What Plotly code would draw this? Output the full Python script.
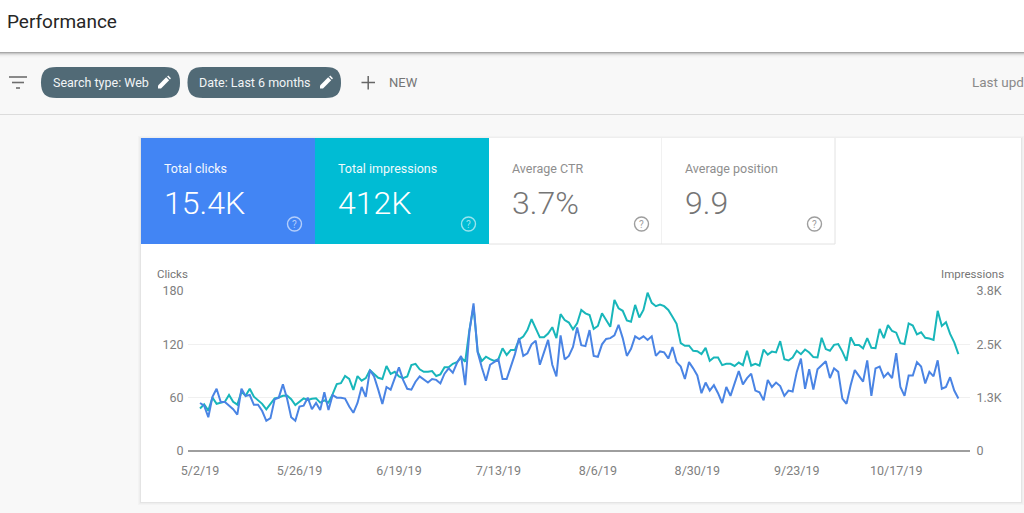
import pandas as pd
import plotly.graph_objects as go

# values
clicks = [54, 51, 38, 61, 70, 55, 55, 51, 47, 41, 70, 62, 63, 52, 52, 45, 34, 37, 58, 60,
          75, 59, 38, 34, 50, 51, 60, 47, 54, 46, 66, 46, 63, 60, 60, 59, 50, 43, 54, 72,
          61, 91, 84, 69, 53, 72, 69, 82, 94, 80, 70, 69, 78, 84, 80, 77, 81, 80, 76, 87,
          93, 88, 99, 107, 74, 134, 166, 111, 94, 79, 97, 100, 103, 81, 81, 95, 109, 127, 107, 110,
          120, 124, 97, 111, 125, 97, 84, 130, 103, 107, 117, 139, 119, 118, 136, 107, 106, 120, 126, 127,
          130, 142, 127, 107, 115, 129, 126, 129, 125, 129, 107, 112, 111, 104, 117, 100, 95, 81, 100, 93,
          85, 65, 77, 68, 74, 65, 54, 72, 62, 76, 90, 75, 82, 87, 68, 66, 57, 80, 72, 77,
          73, 62, 68, 67, 89, 104, 70, 92, 69, 92, 97, 101, 82, 93, 89, 59, 53, 74, 91, 84,
          78, 102, 62, 93, 95, 83, 88, 82, 110, 72, 62, 85, 85, 100, 95, 76, 89, 84, 102, 70,
          72, 83, 68, 59]

impressions = [1010, 1110, 960, 1270, 1120, 1150, 1170, 1330, 1170, 1100,
               1410, 1310, 1480, 1290, 1200, 1120, 990, 1120, 1250, 1270,
               1310, 1320, 1230, 1090, 1160, 1250, 1210, 1240, 1250, 1150,
               1200, 1150, 1350, 1590, 1610, 1780, 1710, 1450, 1780, 1670,
               1730, 1920, 1830, 1740, 1710, 2020, 1830, 1880, 1770, 1730,
               1770, 2040, 2070, 1940, 1880, 1880, 1900, 1780, 1820, 1990,
               1990, 2070, 2110, 2220, 2120, 2870, 3430, 2360, 2140, 2240,
               2180, 2140, 2180, 2440, 2280, 2400, 2400, 2650, 2720, 2870,
               3130, 2910, 2700, 2700, 2790, 2940, 2680, 3250, 3110, 3050,
               2890, 3030, 3350, 3270, 3230, 2900, 2970, 3270, 3100, 2950,
               3590, 3390, 3330, 3100, 3070, 3470, 3170, 3350, 3760, 3520,
               3440, 3480, 3440, 3350, 3190, 3020, 2560, 2500, 2500, 2380,
               2370, 2300, 2450, 2140, 2220, 2220, 2040, 2070, 2070, 2020,
               2100, 2040, 2380, 2030, 2070, 2030, 2410, 2290, 2360, 2340,
               2610, 2180, 2150, 2220, 2380, 2300, 2410, 2340, 2230, 2220,
               2690, 2420, 2380, 2520, 2540, 2360, 2140, 2700, 2520, 2520,
               2440, 2680, 2450, 2440, 2900, 2680, 2990, 2850, 2810, 2560,
               2540, 3030, 2980, 2770, 2820, 2690, 2670, 2640, 3330, 2970,
               3060, 2780, 2580, 2300]

date_ticks = ["2019-05-02", "2019-05-26", "2019-06-19", "2019-07-13",
              "2019-08-06", "2019-08-30", "2019-09-23", "2019-10-17"]
date_labels = ["5/2/19", "5/26/19", "6/19/19", "7/13/19",
               "8/6/19", "8/30/19", "9/23/19", "10/17/19"]
clicks_ticks = [0, 60, 120, 180]
impr_ticks = [0, 1267, 2533, 3800]
impr_labels = ["0", "1.3K", "2.5K", "3.8K"]

tile_titles = ["Total clicks", "Total impressions", "Average CTR", "Average position"]
tile_values = ["15.4K", "412K", "3.7%", "9.9"]

W, H = 1024, 513
FONT = "Roboto"
dates = pd.date_range("2019-05-02", periods=len(clicks), freq="D")


def px(x):
    return x / W


def py(y):
    return 1 - y / H


def rect(x0, y0, x1, y1, fill, line=None, opacity=1):
    return dict(type="rect", xref="paper", yref="paper", layer="below",
                x0=px(x0), x1=px(x1), y0=py(y0), y1=py(y1), fillcolor=fill, opacity=opacity,
                line=dict(color=line or fill, width=1 if line else 0))


def hline(x0, x1, y, color, width=1.5):
    return dict(type="line", xref="paper", yref="paper", layer="below",
                x0=px(x0), x1=px(x1), y0=py(y), y1=py(y), line=dict(color=color, width=width))


def vline(x, y0, y1, color, width=1.5):
    return dict(type="line", xref="paper", yref="paper", layer="below",
                x0=px(x), x1=px(x), y0=py(y0), y1=py(y1), line=dict(color=color, width=width))


def poly(points, fill):
    d = "M " + " L ".join(f"{px(a):.5f},{py(b):.5f}" for a, b in points) + " Z"
    return dict(type="path", xref="paper", yref="paper", layer="above", path=d,
                fillcolor=fill, line=dict(width=0))


def chip(x0, x1, y0, y1, fill):
    # pill shape drawn with bezier corners
    r = (y1 - y0) / 2
    k = 0.29 * r
    d = (f"M {px(x0 + r)},{py(y0)} L {px(x1 - r)},{py(y0)} "
         f"C {px(x1 - k)},{py(y0)} {px(x1)},{py(y0 + k)} {px(x1)},{py(y0 + r)} "
         f"C {px(x1)},{py(y1 - k)} {px(x1 - k)},{py(y1)} {px(x1 - r)},{py(y1)} "
         f"L {px(x0 + r)},{py(y1)} "
         f"C {px(x0 + k)},{py(y1)} {px(x0)},{py(y1 - k)} {px(x0)},{py(y0 + r)} "
         f"C {px(x0)},{py(y0 + k)} {px(x0 + k)},{py(y0)} {px(x0 + r)},{py(y0)} Z")
    return dict(type="path", xref="paper", yref="paper", layer="below", path=d,
                fillcolor=fill, line=dict(width=0))


def pencil(cx, cy):
    return [
        poly([(cx - 6, cy + 6), (cx - 6, cy + 3), (cx + 2.2, cy - 5.2), (cx + 5.2, cy - 2.2), (cx - 3, cy + 6)], "white"),
        poly([(cx + 3.1, cy - 6), (cx + 4.3, cy - 6.9), (cx + 6.9, cy - 4.3), (cx + 6, cy - 3.1)], "white"),
    ]


def text(x, y, s, size, color, anchor="left", weight=None):
    f = dict(family=FONT, size=size, color=color)
    if weight:
        f["weight"] = weight
    return dict(xref="paper", yref="paper", x=px(x), y=py(y), text=s, showarrow=False,
                xanchor=anchor, yanchor="middle", font=f, borderpad=0)


shapes = []
annotations = []

# page header and toolbar
shapes.append(rect(0, 0, W, 52, "white"))
for i, c in enumerate(["#a8a8a8", "#c8c8c8", "#dedede", "#ececec", "#f3f3f3", "#f6f6f6"]):
    shapes.append(rect(0, 52 + i, W, 53 + i, c))
shapes.append(hline(0, W, 114.5, "#dcdcdc", 1))
annotations.append(text(5.5, 21, "Performance", 19, "#262626"))

# filter icon
shapes.append(hline(9, 27, 77, "#6e6e6e", 1.6))
shapes.append(hline(12, 24, 82.5, "#6e6e6e", 1.6))
shapes.append(hline(16, 20, 88, "#6e6e6e", 1.6))

# chips
shapes.append(chip(41, 180, 67, 98, "#516a76"))
shapes.append(chip(187.5, 341, 67, 98, "#516a76"))
annotations.append(text(51.5, 82.5, "Search type: Web", 12.5, "#f2f5f6"))
annotations.append(text(198, 82.5, "Date: Last 6 months", 12.5, "#f2f5f6"))
shapes += pencil(164, 82.5)
shapes += pencil(326, 82.5)

# new filter
shapes.append(hline(361.5, 375, 82.5, "#666666", 1.5))
shapes.append(vline(368.2, 76, 89.5, "#666666", 1.5))
annotations.append(text(388, 83, "NEW", 13, "#757575"))
annotations.append(text(971, 82, "Last upd", 13.5, "#8a8a8a"))

# card with soft shadow
for grow, c in [(3, "#f3f3f3"), (2, "#eeeeee"), (1, "#e4e4e4")]:
    shapes.append(rect(141 - grow, 138 - grow + 1, 1021 + grow, 502 + grow, c))
shapes.append(rect(141, 138, 1021, 502, "white"))

# metric tiles
tile_x = [141, 315, 489, 662, 835]
tile_fill = ["#4285f4", "#00bcd4", "white", "white"]
title_color = ["#f5f8fe", "#effafc", "#8e8e8e", "#8e8e8e"]
value_color = ["white", "white", "#757575", "#757575"]
help_color = ["rgba(255,255,255,0.6)", "rgba(255,255,255,0.6)", "#9e9e9e", "#9e9e9e"]
for i in range(4):
    x0, x1 = tile_x[i], tile_x[i + 1]
    shapes.append(rect(x0, 138, x1, 244, tile_fill[i]))
    if i >= 2:
        shapes.append(vline(x1, 138, 244, "#e2e2e2", 1))
        shapes.append(hline(x0, x1, 244, "#e2e2e2", 1))
    annotations.append(text(x0 + 22, 168.5, tile_titles[i], 12.5, title_color[i]))
    annotations.append(text(x0 + 21.5, 203, tile_values[i], 32, value_color[i], weight=300))
    cx = x1 - 20.5
    shapes.append(dict(type="circle", xref="paper", yref="paper", layer="below",
                       x0=px(cx - 7), x1=px(cx + 7), y0=py(224 - 7), y1=py(224 + 7),
                       line=dict(color=help_color[i], width=1.4)))
    annotations.append(text(cx, 224.5, "?", 10, help_color[i], anchor="center"))

# axis titles
annotations.append(text(155.5, 274, "Clicks", 11.5, "#757575"))
annotations.append(text(1005, 274, "Impressions", 11.5, "#757575", anchor="right"))

fig = go.Figure()

# teal goes on the lower axis so the clicks line stays on top of it
fig.add_trace(go.Scatter(x=dates, y=impressions, mode="lines", name="Impressions",
                         line=dict(color="#18b6ba", width=2), yaxis="y"))
fig.add_trace(go.Scatter(x=dates, y=clicks, mode="lines", name="Clicks",
                         line=dict(color="#4a84e4", width=2), yaxis="y2"))

tick_font = dict(family=FONT, size=12.5, color="#808080")
start = pd.Timestamp("2019-05-02") - pd.Timedelta(days=2.9)
end = pd.Timestamp("2019-05-02") + pd.Timedelta(days=185.8)

fig.update_layout(
    width=W, height=H,
    margin=dict(l=0, r=0, t=0, b=0, pad=0, autoexpand=False),
    paper_bgcolor="#f8f8f8",
    plot_bgcolor="rgba(0,0,0,0)",
    showlegend=False,
    shapes=shapes,
    annotations=annotations,
    xaxis=dict(domain=[px(188), px(970)], range=[start, end], type="date", automargin=False,
               tickmode="array", tickvals=date_ticks, ticktext=date_labels,
               tickfont=tick_font, ticks="outside", ticklen=8, tickcolor="rgba(0,0,0,0)",
               showgrid=False, zeroline=False, showline=False, anchor="y"),
    yaxis=dict(domain=[py(451), py(291)], range=[0, 3800], side="right", anchor="x", automargin=False,
               tickmode="array", tickvals=impr_ticks, ticktext=impr_labels,
               tickfont=tick_font, ticks="outside", ticklen=3, tickcolor="rgba(0,0,0,0)",
               showgrid=True, gridcolor="#f0f0f0", gridwidth=1,
               zeroline=True, zerolinecolor="#9e9e9e", zerolinewidth=1.5, showline=False),
    yaxis2=dict(domain=[py(451), py(291)], range=[0, 180], side="left", anchor="x", overlaying="y",
                automargin=False, tickmode="array", tickvals=clicks_ticks,
                tickfont=tick_font, ticks="outside", ticklen=1, tickcolor="rgba(0,0,0,0)",
                showgrid=False, zeroline=False, showline=False),
)

# the page's default body margin would push the figure off the window
fig.write_html("out.html", config={"displayModeBar": False},
               post_script="document.body.style.margin='0';document.body.style.overflow='hidden';")
